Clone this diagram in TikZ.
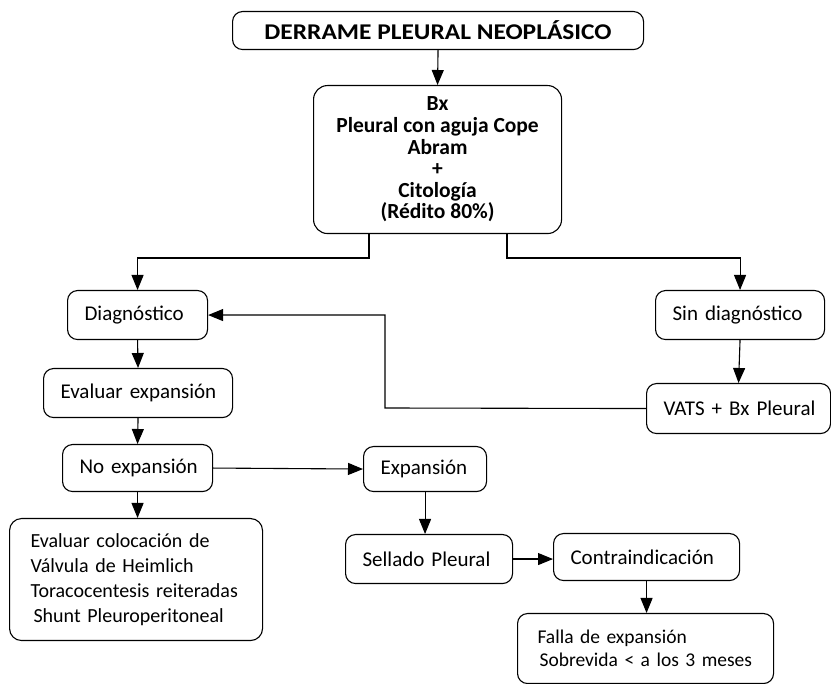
\documentclass[tikz,border=0pt]{standalone}
\usepackage{fontspec}
\setmainfont{Carlito}
\usetikzlibrary{arrows.meta}
\newcommand{\boxfont}[2]{\fontsize{#1}{#2}\selectfont}
\begin{document}
\begin{tikzpicture}[x=1pt,y=-1pt,
  box/.style={draw, line width=1.1pt, rounded corners=10pt, anchor=north west,
    inner xsep=17pt, inner ysep=0pt, align=left, font=\boxfont{21}{25}},
  cbox/.style={draw, line width=1.1pt, rounded corners=10pt, anchor=north west,
    inner sep=0pt, align=center},
  arr/.style={line width=1.1pt, -{Triangle[length=15pt,width=12pt]}}]
\useasboundingbox (0,0) rectangle (831,684);

% top of the chart
\node[cbox, minimum width=411pt, minimum height=38pt,
  font=\fontsize{22.5}{22}\selectfont\bfseries\addfontfeature{FakeStretch=1.13}] (title) at (232,11)
  {DERRAME PLEURAL NEOPLÁSICO};
\node[cbox, rounded corners=14pt, minimum width=248pt, minimum height=148pt,
  font=\fontsize{21.5}{21.6}\selectfont\bfseries] (bx) at (313,85)
  {Bx\\Pleural con aguja Cope\\Abram\\+\\Citología\\(Rédito 80\%)};

% left branch
\node[box, text width=106pt, minimum height=49pt] (diag) at (67,290) {\mbox{Diagnóstico}};
\node[box, text width=155pt, minimum height=49pt] (eval) at (43,368) {\mbox{Evaluar expansión}};
\node[box, text width=116pt, minimum height=47pt] (noexp) at (62,444) {\mbox{No expansión}};
\node[box, rounded corners=12pt, text width=211pt, minimum height=122pt, inner xsep=21pt,
  font=\boxfont{20}{25}] (col) at (9,518)
  {\mbox{Evaluar colocación de}\\\mbox{Válvula de Heimlich}\\\mbox{Toracocentesis reiteradas}\\\hspace*{3pt}\mbox{Shunt Pleuroperitoneal}};

% right branch
\node[box, text width=135pt, minimum height=49pt] (sind) at (655,290) {\mbox{Sin diagnóstico}};
\node[box, text width=150pt, minimum height=50pt] (vats) at (646,383) {\mbox{VATS + Bx Pleural}};

% expansion branch
\node[box, text width=89pt, minimum height=45pt] (exp) at (363,446) {\mbox{Expansión}};
\node[box, text width=133pt, minimum height=49pt] (sell) at (345,534) {\mbox{Sellado Pleural}};
\node[box, text width=152pt, minimum height=47pt] (contra) at (553,533) {\mbox{Contraindicación}};
\node[box, text width=216pt, minimum height=70pt, font=\boxfont{19.5}{23},
  inner xsep=20pt] (falla) at (517,613)
  {\mbox{Falla de expansión}\\\hspace*{2pt}\mbox{Sobrevida < a los 3 meses}};

% connectors
\coordinate (jl) at (369,258);
\coordinate (jr) at (507,258);
\coordinate (jv) at (385,408);
\draw[arr] (title.south) -- (bx.north);
\draw[arr] (bx.south -| jl) -- (jl) -| (diag.north);
\draw[arr] (bx.south -| jr) -- (jr) -| (sind.north);
\draw[arr] (sind.south) -- (vats.north);
\draw[arr] (vats.west) -- (jv) |- (diag.east);
\draw[arr] (diag.south) -- (eval.north);
\draw[arr] (eval.south) -- (noexp.north);
\draw[arr] (noexp.south) -- (noexp.south |- col.north);
\draw[arr] (noexp.east) -- (exp.west);
\draw[arr] (exp.south) -- (exp.south |- sell.north);
\draw[arr] (sell.east) -- (sell.east -| contra.west);
\draw[arr] (contra.south) -- (contra.south |- falla.north);
\end{tikzpicture}
\end{document}
